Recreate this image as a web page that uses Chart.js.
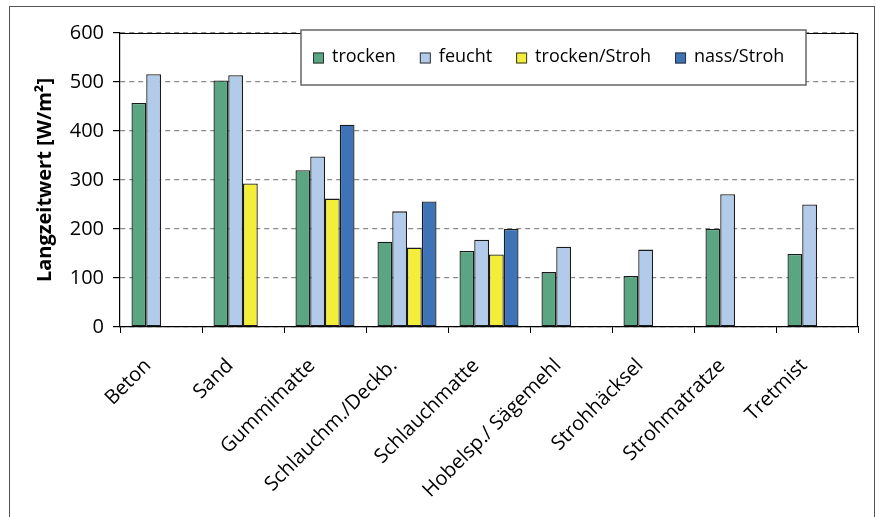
<!DOCTYPE html>
<html>
<head>
<meta charset="utf-8">
<script src="https://cdn.jsdelivr.net/npm/chart.js@4"></script>
<style>
  html, body { margin: 0; padding: 0; background: #fff; overflow: hidden; }
  #frame { position: absolute; left: 9px; top: 6px; width: 864px; height: 600px; border: 1.5px solid #555; }
  #chart { position: absolute; left: 0; top: 0; }
</style>
</head>
<body>
<div id="frame"></div>
<canvas id="chart" width="876" height="517"></canvas>
<script>
const categories = ['Beton', 'Sand', 'Gummimatte', 'Schlauchm./Deckb.', 'Schlauchmatte',
  'Hobelsp./ Sägemehl', 'Strohhäcksel', 'Strohmatratze', 'Tretmist'];
const trocken = [457, 503, 320, 174, 155, 112, 104, 200, 149];
const feucht = [516, 514, 348, 236, 178, 164, 158, 271, 250];
const trockenStroh = [null, 293, 262, 162, 148, null, null, null, null];
const nassStroh = [null, null, 413, 256, 200, null, null, null, null];
const yTicks = [0, 100, 200, 300, 400, 500, 600];

const FONT = "'Open Sans', sans-serif";

function series(label, data, color) {
  return {
    label: label,
    data: data,
    backgroundColor: color,
    borderColor: '#1a1a1a',
    borderWidth: 1.3,
    borderSkipped: false,
    categoryPercentage: 0.72,
    barPercentage: 1
  };
}

// plot border + boxed legend drawn on top of everything
const framePlugin = {
  id: 'frame',
  afterDraw(chart) {
    const { ctx, chartArea: a } = chart;
    ctx.save();
    ctx.setLineDash([]);
    ctx.strokeStyle = '#000';
    ctx.lineWidth = 1.2;
    ctx.beginPath();
    ctx.moveTo(Math.round(a.left), Math.round(a.top) + 0.5);
    ctx.lineTo(Math.round(a.right) - 0.5, Math.round(a.top) + 0.5);
    ctx.lineTo(Math.round(a.right) - 0.5, Math.round(a.bottom));
    ctx.stroke();

    // legend box
    const bx = 301, by = 30, bw = 505, bh = 55;
    ctx.fillStyle = '#fff';
    ctx.fillRect(bx, by, bw, bh);
    ctx.strokeStyle = '#666';
    ctx.lineWidth = 1.5;
    ctx.strokeRect(bx, by, bw, bh);

    ctx.font = '18px ' + FONT;
    ctx.textBaseline = 'middle';
    ctx.textAlign = 'left';
    let x = 313;
    const cy = 58;
    chart.data.datasets.forEach(ds => {
      ctx.fillStyle = ds.backgroundColor;
      ctx.fillRect(x, cy - 5.5, 11, 11);
      ctx.strokeStyle = '#333';
      ctx.lineWidth = 1;
      ctx.strokeRect(x + 0.5, cy - 5, 10, 10);
      ctx.fillStyle = '#000';
      ctx.fillText(ds.label, x + 19, cy - 1);
      x += 19 + ctx.measureText(ds.label).width + 24;
    });
    ctx.restore();
  }
};

new Chart(document.getElementById('chart'), {
  type: 'bar',
  data: {
    labels: categories,
    datasets: [
      series('trocken', trocken, '#5aa683'),
      series('feucht', feucht, '#b3cbea'),
      series('trocken/Stroh', trockenStroh, '#f2ee3a'),
      series('nass/Stroh', nassStroh, '#3f73b8')
    ]
  },
  options: {
    responsive: false,
    animation: false,
    layout: { padding: { left: 0, right: 18, top: 33, bottom: 0 } },
    plugins: {
      legend: { display: false },
      tooltip: { enabled: false }
    },
    scales: {
      x: {
        afterFit(scale) { scale.height = 190; },
        grid: {
          offset: true,
          drawOnChartArea: false,
          drawTicks: true,
          tickLength: 6,
          tickColor: '#000'
        },
        border: { color: '#000', width: 1.2 },
        ticks: {
          autoSkip: false,
          minRotation: 45,
          maxRotation: 45,
          padding: 21,
          labelOffset: -13,
          color: '#000',
          font: { family: FONT, size: 20 }
        }
      },
      y: {
        min: 0,
        max: 600,
        afterFit(scale) { scale.width = 120; },
        afterBuildTicks(scale) { scale.ticks = yTicks.map(v => ({ value: v })); },
        grid: {
          color: '#8a8a8a',
          lineWidth: 1.2,
          drawTicks: true,
          tickLength: 7,
          tickColor: '#000',
          tickBorderDash: []
        },
        border: { color: '#000', width: 1.2, dash: [5, 4] },
        ticks: {
          padding: 9,
          color: '#000',
          font: { family: FONT, size: 20 }
        },
        title: {
          display: true,
          text: 'Langzeitwert [W/m²]',
          color: '#000',
          padding: { top: 33, bottom: 0 },
          font: { family: FONT, size: 20, weight: 'bold' }
        }
      }
    }
  },
  plugins: [framePlugin]
});
</script>
</body>
</html>
